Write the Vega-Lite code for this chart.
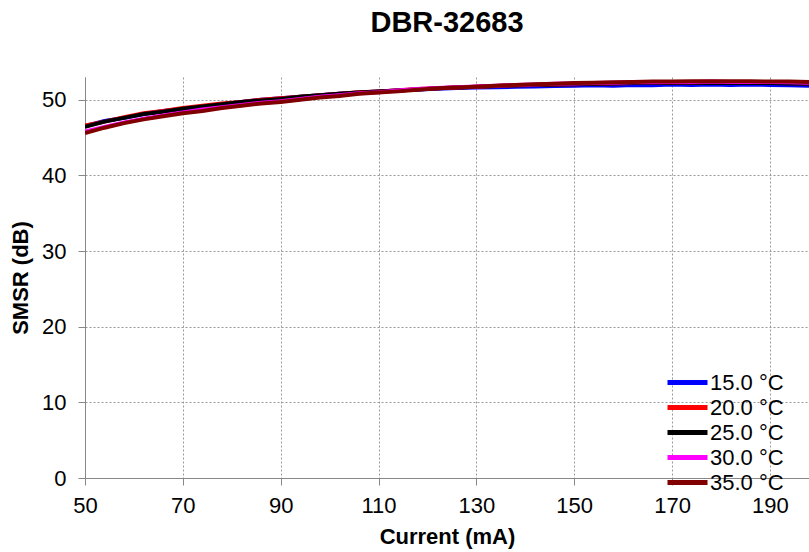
{
  "$schema": "https://vega.github.io/schema/vega-lite/v6.json",
  "width": 724,
  "height": 401,
  "autosize": {"type": "none"},
  "padding": {"left": 85, "top": 77, "right": 0, "bottom": 74},
  "background": "white",
  "config": {
    "font": "Liberation Sans",
    "view": {"stroke": null}
  },
  "title": {
    "text": "DBR-32683",
    "fontSize": 29,
    "fontWeight": "bold",
    "font": "Liberation Sans",
    "color": "black",
    "anchor": "middle",
    "offset": 39
  },
  "data": {
    "values": [
      {"I": 50, "t15": 46.5, "t20": 46.6, "t25": 46.4, "t30": 45.8, "t35": 45.6},
      {"I": 54, "t15": 47.2, "t20": 47.1, "t25": 47.1, "t30": 46.4, "t35": 46.3},
      {"I": 58, "t15": 47.6, "t20": 47.7, "t25": 47.6, "t30": 47.0, "t35": 46.9},
      {"I": 62, "t15": 48.1, "t20": 48.2, "t25": 48.1, "t30": 47.5, "t35": 47.4},
      {"I": 66, "t15": 48.5, "t20": 48.5, "t25": 48.4, "t30": 47.9, "t35": 47.8},
      {"I": 70, "t15": 48.8, "t20": 48.9, "t25": 48.8, "t30": 48.3, "t35": 48.2},
      {"I": 74, "t15": 49.1, "t20": 49.2, "t25": 49.1, "t30": 48.7, "t35": 48.5},
      {"I": 78, "t15": 49.4, "t20": 49.5, "t25": 49.4, "t30": 49.0, "t35": 48.9},
      {"I": 82, "t15": 49.7, "t20": 49.7, "t25": 49.7, "t30": 49.3, "t35": 49.2},
      {"I": 86, "t15": 50.0, "t20": 50.0, "t25": 49.9, "t30": 49.6, "t35": 49.5},
      {"I": 90, "t15": 50.2, "t20": 50.2, "t25": 50.1, "t30": 49.8, "t35": 49.7},
      {"I": 94, "t15": 50.4, "t20": 50.4, "t25": 50.4, "t30": 50.1, "t35": 50.0},
      {"I": 98, "t15": 50.6, "t20": 50.6, "t25": 50.6, "t30": 50.4, "t35": 50.3},
      {"I": 102, "t15": 50.8, "t20": 50.8, "t25": 50.8, "t30": 50.6, "t35": 50.5},
      {"I": 106, "t15": 50.95, "t20": 51.0, "t25": 50.95, "t30": 50.85, "t35": 50.8},
      {"I": 110, "t15": 51.1, "t20": 51.1, "t25": 51.1, "t30": 51.0, "t35": 50.95},
      {"I": 114, "t15": 51.2, "t20": 51.25, "t25": 51.2, "t30": 51.2, "t35": 51.1},
      {"I": 118, "t15": 51.35, "t20": 51.4, "t25": 51.35, "t30": 51.4, "t35": 51.3},
      {"I": 122, "t15": 51.45, "t20": 51.5, "t25": 51.5, "t30": 51.55, "t35": 51.5},
      {"I": 126, "t15": 51.55, "t20": 51.6, "t25": 51.6, "t30": 51.65, "t35": 51.6},
      {"I": 130, "t15": 51.6, "t20": 51.7, "t25": 51.7, "t30": 51.75, "t35": 51.7},
      {"I": 134, "t15": 51.65, "t20": 51.8, "t25": 51.8, "t30": 51.85, "t35": 51.85},
      {"I": 138, "t15": 51.7, "t20": 51.9, "t25": 51.9, "t30": 51.95, "t35": 51.95},
      {"I": 142, "t15": 51.75, "t20": 51.95, "t25": 51.95, "t30": 52.0, "t35": 52.05},
      {"I": 146, "t15": 51.8, "t20": 52.0, "t25": 52.0, "t30": 52.1, "t35": 52.1},
      {"I": 150, "t15": 51.85, "t20": 52.05, "t25": 52.05, "t30": 52.15, "t35": 52.2},
      {"I": 154, "t15": 51.9, "t20": 52.1, "t25": 52.1, "t30": 52.2, "t35": 52.25},
      {"I": 158, "t15": 51.85, "t20": 52.15, "t25": 52.15, "t30": 52.25, "t35": 52.3},
      {"I": 162, "t15": 51.95, "t20": 52.2, "t25": 52.2, "t30": 52.3, "t35": 52.35},
      {"I": 166, "t15": 51.9, "t20": 52.2, "t25": 52.2, "t30": 52.3, "t35": 52.4},
      {"I": 170, "t15": 52.0, "t20": 52.25, "t25": 52.25, "t30": 52.35, "t35": 52.4},
      {"I": 174, "t15": 51.95, "t20": 52.25, "t25": 52.25, "t30": 52.35, "t35": 52.45},
      {"I": 178, "t15": 52.0, "t20": 52.25, "t25": 52.2, "t30": 52.4, "t35": 52.45},
      {"I": 182, "t15": 51.95, "t20": 52.25, "t25": 52.25, "t30": 52.35, "t35": 52.45},
      {"I": 186, "t15": 52.0, "t20": 52.25, "t25": 52.2, "t30": 52.35, "t35": 52.45},
      {"I": 190, "t15": 51.95, "t20": 52.2, "t25": 52.2, "t30": 52.35, "t35": 52.4},
      {"I": 194, "t15": 51.9, "t20": 52.2, "t25": 52.15, "t30": 52.3, "t35": 52.4},
      {"I": 198, "t15": 51.85, "t20": 52.15, "t25": 52.1, "t30": 52.25, "t35": 52.35}
    ]
  },
  "transform": [
    {"fold": ["t15", "t20", "t25", "t30", "t35"], "as": ["T", "S"]}
  ],
  "mark": {"type": "line", "strokeWidth": 4, "clip": true},
  "encoding": {
    "x": {
      "field": "I",
      "type": "quantitative",
      "scale": {"domain": [50, 198], "nice": false, "zero": false},
      "axis": {
        "title": "Current (mA)",
        "values": [50, 70, 90, 110, 130, 150, 170, 190],
        "labelFontSize": 22,
        "labelColor": "black",
        "labelFont": "Liberation Sans",
        "labelPadding": 10,
        "labelFlush": false,
        "labelOverlap": false,
        "titleFontSize": 22,
        "titleFontWeight": "bold",
        "titleColor": "black",
        "titleFont": "Liberation Sans",
        "titlePadding": 10,
        "domainColor": "#888888",
        "domainWidth": 1,
        "tickColor": "#888888",
        "tickSize": 7,
        "gridColor": "#999999",
        "gridDash": [2, 2],
        "gridWidth": 1
      }
    },
    "y": {
      "field": "S",
      "type": "quantitative",
      "scale": {"domain": [0, 53], "nice": false},
      "axis": {
        "title": "SMSR (dB)",
        "values": [0, 10, 20, 30, 40, 50],
        "labelFontSize": 22,
        "labelColor": "black",
        "labelFont": "Liberation Sans",
        "labelPadding": 12,
        "labelFlush": false,
        "labelOverlap": false,
        "titleFontSize": 22,
        "titleFontWeight": "bold",
        "titleColor": "black",
        "titleFont": "Liberation Sans",
        "titlePadding": 9,
        "domainColor": "#888888",
        "domainWidth": 1,
        "tickColor": "#888888",
        "tickSize": 7,
        "gridColor": "#999999",
        "gridDash": [2, 2],
        "gridWidth": 1
      }
    },
    "color": {
      "field": "T",
      "type": "nominal",
      "scale": {
        "domain": ["t15", "t20", "t25", "t30", "t35"],
        "range": ["#0000FF", "#FF0000", "#000000", "#FF00FF", "#800000"]
      },
      "legend": {
        "title": null,
        "orient": "none",
        "legendX": 580,
        "legendY": 293,
        "symbolType": "stroke",
        "symbolSize": 1600,
        "symbolStrokeWidth": 5,
        "clipHeight": 25,
        "rowPadding": 0,
        "labelFontSize": 22,
        "labelFont": "Liberation Sans",
        "labelColor": "black",
        "labelOffset": 0,
        "labelLimit": 200,
        "labelExpr": "replace(datum.label, 't', '') + '.0 °C'"
      }
    }
  }
}
